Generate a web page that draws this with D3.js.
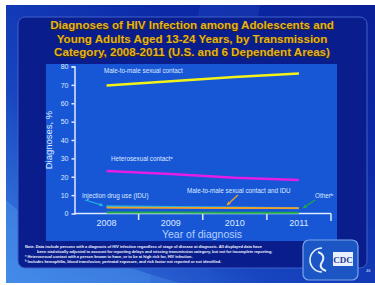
<!DOCTYPE html>
<html><head><meta charset="utf-8">
<script src="https://cdn.jsdelivr.net/npm/d3@7"></script>
<style>html,body{margin:0;padding:0;background:#fff;}svg{display:block;}</style>
</head><body>
<script>
const years = ["2008","2009","2010","2011"];
const msm = [69.7, 72.0, 74.3, 76.2];
const hetero = [23.1, 21.5, 19.4, 18.2];
const idu = [4.0, 3.6, 3.2, 2.8];
const msmIdu = [3.2, 3.1, 3.0, 2.9];
const other = [0.5, 0.5, 0.4, 0.4];
const yTicks = [0,10,20,30,40,50,60,70,80];
const seriesNames = ["Male-to-male sexual contact","Heterosexual contact\u1d43","Injection drug use (IDU)","Male-to-male sexual contact and IDU","Other\u1d47"];
const titleLines = ["Diagnoses of HIV Infection among Adolescents and","Young  Adults Aged 13-24 Years, by Transmission","Category, 2008-2011 (U.S. and 6 Dependent Areas)"];
const notes = [
 "Note. Data include persons with a diagnosis of HIV infection regardless of stage of disease at diagnosis. All displayed data have",
 "been statistically adjusted to account for reporting delays and missing transmission category, but not for incomplete reporting.",
 "\u1d43 Heterosexual contact with a person known to have, or to be at high risk for, HIV infection.",
 "\u1d47 Includes hemophilia, blood transfusion, perinatal exposure, and risk factor not reported or not identified."
];

const W=375,H=285;
const svg=d3.select("body").append("svg").attr("width",W).attr("height",H);
const defs=svg.append("defs");
const bg=defs.append("linearGradient").attr("id","bg").attr("x1","0").attr("y1","1").attr("x2","1").attr("y2","0");
bg.append("stop").attr("offset","0").attr("stop-color","#3f86e6");
bg.append("stop").attr("offset","0.35").attr("stop-color","#1846c0");
bg.append("stop").attr("offset","0.7").attr("stop-color","#0c2aa8");
bg.append("stop").attr("offset","1").attr("stop-color","#0a1f96");
svg.append("rect").attr("x",6).attr("y",5).attr("width",W-6).attr("height",278).attr("fill","url(#bg)");
svg.append("path").attr("d","M6,200 Q60,250 180,283 L6,283 Z").attr("fill","#4a92ec").attr("opacity",0.5);
svg.append("path").attr("d","M200,5 L260,5 L210,283 L150,283 Z").attr("fill","#2a58d0").attr("opacity",0.25);
svg.append("rect").attr("x",18).attr("y",17).attr("width",349).attr("height",251).attr("rx",7)
  .attr("fill","#0a1d8c").attr("stroke","#3e62cc").attr("stroke-width",1);
const tg=svg.append("g").attr("font-family","Liberation Sans, Arial, sans-serif").attr("font-weight","bold").attr("font-size",11.6).attr("text-anchor","middle");
titleLines.forEach((t,i)=>{
  tg.append("text").attr("x",192).attr("y",29+i*13.5).attr("fill","#3a2a00").attr("dx",0.8).attr("dy",0.8).text(t);
  tg.append("text").attr("x",192).attr("y",29+i*13.5).attr("fill","#e6b41e").text(t);
});
svg.append("rect").attr("x",46).attr("y",64).attr("width",291).attr("height",177).attr("fill","#1757d6");

const x=d3.scaleBand().domain(years).range([74.5,331]);
const y=d3.scaleLinear().domain([0,80]).range([213.5,66.5]);
const cx=d=>x(d)+x.bandwidth()/2;

const fg="#dfe9ff";
const ya=svg.append("g").attr("transform","translate(74.5,0)")
  .call(d3.axisLeft(y).tickValues(yTicks).tickSize(3).tickPadding(3));
ya.select(".domain").attr("stroke",fg).attr("stroke-width",1.5);
ya.selectAll(".tick line").attr("stroke",fg).attr("stroke-width",1.5);
ya.selectAll(".tick text").attr("fill",fg).attr("font-size",7).attr("font-family","Liberation Sans, Arial, sans-serif");
ya.selectAll(".tick").filter(d=>d===0).select("line").remove();
const xa=svg.append("g").attr("transform","translate(0,213.5)")
  .call(d3.axisBottom(x).tickSize(0).tickPadding(6));
xa.select(".domain").remove();
xa.selectAll(".tick text").attr("fill",fg).attr("font-size",9).attr("font-family","Liberation Sans, Arial, sans-serif");
svg.append("line").attr("x1",74.5).attr("x2",331).attr("y1",213.5).attr("y2",213.5).attr("stroke",fg).attr("stroke-width",1.5);
years.forEach((d,i)=>{
  const bx=x(d)+x.bandwidth();
  svg.append("line").attr("x1",bx).attr("x2",bx).attr("y1",213.5).attr("y2",i===3?221:220).attr("stroke",fg).attr("stroke-width",1.5);
});
svg.append("text").attr("x",202).attr("y",238).attr("text-anchor","middle").attr("fill","#b4d0ff")
  .attr("font-size",10.5).attr("font-family","Liberation Sans, Arial, sans-serif").text("Year of diagnosis");
svg.append("text").attr("transform","translate(52,140) rotate(-90)").attr("text-anchor","middle").attr("fill",fg)
  .attr("font-size",9.5).attr("font-family","Liberation Sans, Arial, sans-serif").text("Diagnoses, %");

const line=d3.line().x((v,i)=>cx(years[i])).y(v=>y(v));
const series=[
  {v:other,c:"#1fa84a",w:2},
  {v:idu,c:"#25b4e4",w:2},
  {v:msmIdu,c:"#f0a02a",w:1.8},
  {v:hetero,c:"#e41ee4",w:2.5},
  {v:msm,c:"#f2f21a",w:2.5}
];
series.forEach(s=>svg.append("path").attr("d",line(s.v)).attr("fill","none").attr("stroke",s.c).attr("stroke-width",s.w));

const lg=svg.append("g").attr("font-family","Liberation Sans, Arial, sans-serif").attr("font-size",6.3).attr("fill",fg);
lg.append("text").attr("x",104).attr("y",73).text(seriesNames[0]);
lg.append("text").attr("x",111).attr("y",161).text(seriesNames[1]);
lg.append("text").attr("x",82).attr("y",198).text(seriesNames[2]);
lg.append("text").attr("x",187).attr("y",193).text(seriesNames[3]);
lg.append("text").attr("x",315).attr("y",198).text(seriesNames[4]);
function arrow(x1,y1,x2,y2,c){
  svg.append("line").attr("x1",x1).attr("y1",y1).attr("x2",x2).attr("y2",y2).attr("stroke",c).attr("stroke-width",1.3);
  const a=Math.atan2(y2-y1,x2-x1),L=4;
  const p=[[x2,y2],[x2-L*Math.cos(a-0.5),y2-L*Math.sin(a-0.5)],[x2-L*Math.cos(a+0.5),y2-L*Math.sin(a+0.5)]];
  svg.append("path").attr("d","M"+p.join("L")+"Z").attr("fill",c);
}
arrow(85,200,103,205.5,"#25b4e4");
arrow(238,195,227,205,"#f0a02a");
arrow(315,200,303,208,"#1fa84a");

const ng=svg.append("g").attr("font-family","Liberation Sans, Arial, sans-serif").attr("font-size",3.9).attr("font-weight","bold").attr("fill","#f0f4ff");
notes.forEach((t,i)=>ng.append("text").attr("x",i===1?37:25).attr("y",248+i*5).text(t));

svg.append("rect").attr("x",303).attr("y",240).attr("width",55).attr("height",40).attr("rx",6).attr("fill","#1c56c4").attr("stroke","#7aa6ea").attr("stroke-width",1.2);
svg.append("path").attr("d","M322,248 A12,12 0 1,0 322,272").attr("fill","none").attr("stroke","#e8f0ff").attr("stroke-width",1.6);
svg.append("path").attr("d","M318,252 Q326,255 322,262 Q318,268 326,271").attr("fill","none").attr("stroke","#e8f0ff").attr("stroke-width",2);
svg.append("rect").attr("x",333).attr("y",252).attr("width",20).attr("height",14).attr("fill","#e8f0ff");
svg.append("text").attr("x",343).attr("y",263).attr("text-anchor","middle").attr("font-family","Liberation Serif, serif").attr("font-weight","bold").attr("font-size",9).attr("fill","#1c3a90").text("CDC");
svg.append("text").attr("x",366).attr("y",272).attr("font-family","Liberation Sans, Arial, sans-serif").attr("font-size",4).attr("fill","#dfe9ff").text("46");
</script>
</body></html>
